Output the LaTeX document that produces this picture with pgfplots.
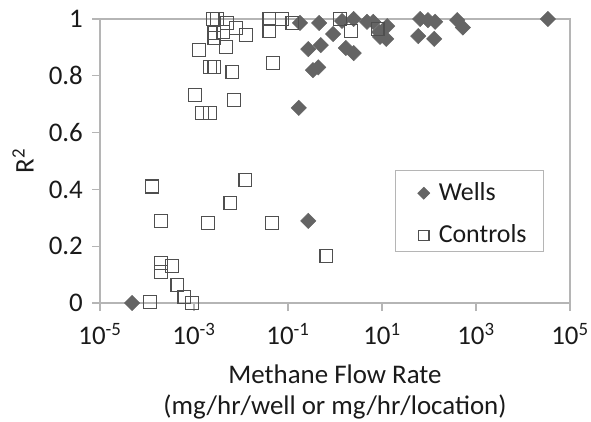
\documentclass[border=0pt]{standalone}
\usepackage{pgfplots}
\pgfplotsset{compat=1.18}
\usepackage{fontspec}
\setmainfont{Carlito}
\definecolor{wellc}{HTML}{646464}
\definecolor{ctrlc}{HTML}{4F4F4F}
\definecolor{axc}{HTML}{B5B5B5}
\definecolor{txt}{HTML}{1A1A1A}
\begin{document}
\fontsize{27}{31}\selectfont
\begin{tikzpicture}
\path[use as bounding box] (-100bp,-119bp) rectangle (491bp,303bp);
\begin{axis}[
  at={(0,0)}, anchor=south west,
  scale only axis, width=470bp, height=284bp,
  xmode=log, log basis x=10,
  xmin=1e-5, xmax=1e5, ymin=0, ymax=1,
  clip=false,
  xtick={1e-5,1e-3,1e-1,1e1,1e3,1e5},
  xticklabels={10\textsuperscript{-5},10\textsuperscript{-3},10\textsuperscript{-1},10\textsuperscript{1},10\textsuperscript{3},10\textsuperscript{5}},
  minor xtick={},
  ytick={0,0.2,0.4,0.6,0.8,1},
  yticklabels={0,0.2,0.4,0.6,0.8,1},
  xtick pos=lower, ytick pos=left,
  tick align=outside, major tick length=8bp,
  axis line style={axc, line width=1.2bp},
  tick style={axc, line width=1.2bp},
  /pgf/number format/assume math mode=true,
  ticklabel style={font=\fontsize{27}{31}\selectfont, text=txt, inner sep=0pt},
  xticklabel style={anchor=north, yshift=-12bp},
  yticklabel style={anchor=east, xshift=-9bp},
  xlabel={Methane Flow Rate\\(mg/hr/well or mg/hr/location)},
  xlabel style={at={(axis description cs:0.5,0)}, anchor=north, yshift=-62bp, align=center, inner sep=0pt, text=txt, font=\fontsize{27}{31}\selectfont},
  ylabel={R\textsuperscript{2}},
  ylabel style={at={(axis description cs:-0.164,0.5)}, anchor=center, inner sep=0pt, text=txt, font=\fontsize{27}{31}\selectfont},
  legend style={at={(axis description cs:0.628,0.468)}, anchor=north west,
    draw=axc, line width=1.2bp, inner xsep=17bp, inner ysep=4bp, row sep=18.5bp,
    font=\fontsize{26}{30}\selectfont, text=txt},
  legend cell align=left,
  legend style={nodes={inner sep=0pt}},
]
\addplot[only marks, mark=square*, mark size=5.4bp,
  mark options={rotate=45, fill=wellc, draw=wellc, line width=0.5bp},
  legend image code/.code={
    \path[draw=none, fill=none] (-11bp,-12bp) rectangle (15bp,18.5bp);
    \draw[mark=square*, mark size=4.3bp, mark options={rotate=45, fill=wellc, draw=wellc, line width=0.5bp}] plot coordinates {(0bp,0bp)};}]
coordinates {
(4.8e-5,0.0) (0.27,0.289) (0.17,0.687) (0.18,0.986) (0.46,0.986)
(0.91,0.947) (0.27,0.894) (0.50,0.908) (0.34,0.82) (0.44,0.83)
(1.41,0.993) (2.5,1.0) (1.7,0.898) (2.5,0.880) (4.8,0.99) (6.5,0.99)
(8.7,0.954) (12.9,0.975) (9.1,0.937) (12.3,0.930) (65,1.0) (95,0.996)
(135,0.99) (59,0.94) (129,0.93) (398,0.996) (525,0.97) (33900,1.0)
};
\addlegendentry{Wells}
\addplot[only marks, mark=square, mark size=6.4bp,
  mark options={draw=ctrlc, line width=1.4bp},
  legend image code/.code={
    \path[draw=none, fill=none] (-11bp,-12bp) rectangle (15bp,12bp);
    \draw[mark=square, mark size=5.2bp, mark options={draw=ctrlc, line width=1.2bp}] plot coordinates {(0bp,0bp)};}]
coordinates {
(1.15e-4,0.004) (2.0e-4,0.141) (2.0e-4,0.109) (3.4e-4,0.130) (4.4e-4,0.063)
(6.2e-4,0.021) (9.1e-4,0.0) (1.29e-4,0.41) (2.0e-4,0.289) (2.0e-3,0.282)
(5.9e-3,0.352) (1.23e-2,0.433) (4.6e-2,0.282) (0.65,0.165)
(2.5e-3,1.0) (3.1e-3,1.0) (5.0e-3,0.986) (7.8e-3,0.968) (1.29e-2,0.944)
(4.2e-3,0.954) (2.7e-3,0.951) (2.7e-3,0.933) (4.8e-3,0.901) (1.29e-3,0.891)
(0.040,1.0) (0.040,0.958) (0.074,1.0) (0.123,0.986)
(2.7e-3,0.831) (2.2e-3,0.831) (6.5e-3,0.813) (0.048,0.845)
(1.05e-3,0.732) (7.1e-3,0.715) (1.48e-3,0.669) (2.2e-3,0.669)
(1.29,1.0) (2.19,0.958) (8.1,0.965)
};
\addlegendentry{Controls}
\end{axis}
\end{tikzpicture}
\end{document}
